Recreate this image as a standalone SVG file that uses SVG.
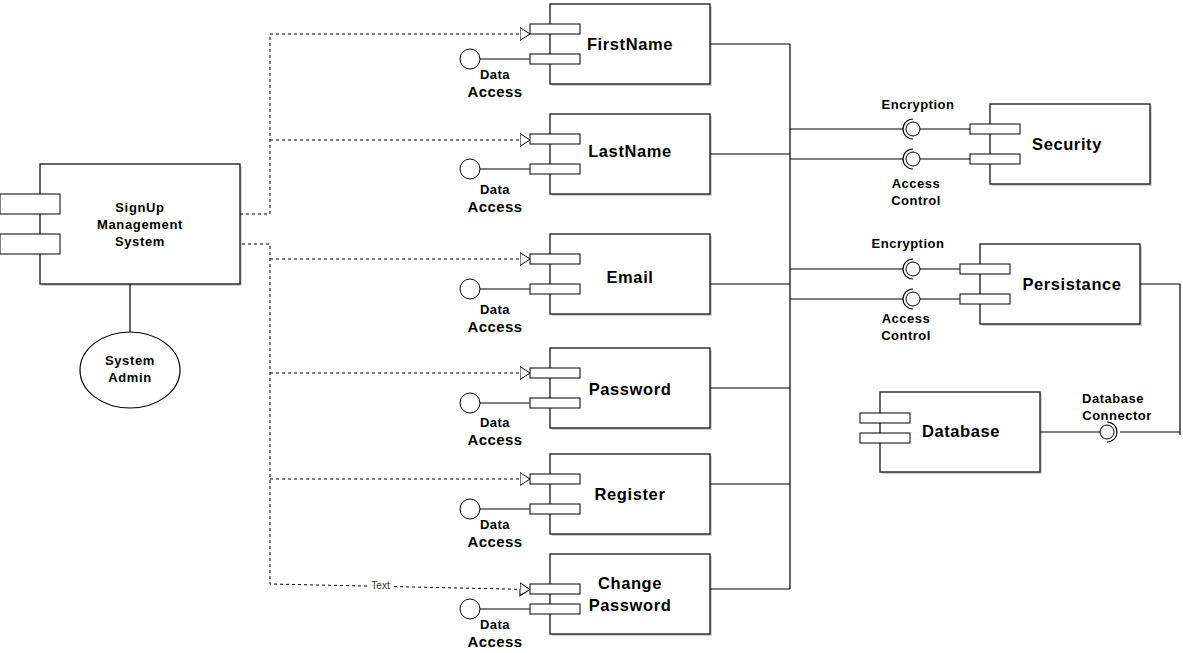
<svg xmlns="http://www.w3.org/2000/svg" width="1183" height="653" viewBox="0 0 1183 653">
<style>
.box{fill:#fff;stroke:#000;stroke-width:1.2}
.sh{fill:#000;opacity:0.18}
.port{fill:#fff;stroke:#000;stroke-width:1}
.ln{fill:none;stroke:#000;stroke-width:1.2}
.dash{fill:none;stroke:#000;stroke-width:1;stroke-dasharray:3 3}
.t{font-family:"Liberation Sans",Arial,sans-serif;font-weight:bold;text-anchor:middle;fill:#000}
.big{font-size:16.5px;letter-spacing:0.6px}
.mid{font-size:13px;letter-spacing:0.65px}
.acc{font-size:15px;letter-spacing:0.4px}
.sm{font-size:13px;letter-spacing:0.5px}
</style>
<defs>
<marker id="tri" markerUnits="userSpaceOnUse" markerWidth="12" markerHeight="15" refX="10.5" refY="7" orient="auto">
<path d="M0.5,0.5 L10.5,7 L0.5,13.5 z" fill="#fff" stroke="#000" stroke-width="1"/>
</marker>
</defs>

<g id="connectors">
<path class="dash" d="M240,214 H270 V34 H530" marker-end="url(#tri)"/>
<path class="dash" d="M270,140 H530" marker-end="url(#tri)"/>
<path class="dash" d="M236,244 H270 V584 L530,589.5" marker-end="url(#tri)"/>
<path class="dash" d="M270,259 H530" marker-end="url(#tri)"/>
<path class="dash" d="M270,373 H530" marker-end="url(#tri)"/>
<path class="dash" d="M270,479 H530" marker-end="url(#tri)"/>
<rect x="368" y="579" width="25" height="12" fill="#fff"/>
<text x="380.5" y="589" font-family="Liberation Sans,Arial,sans-serif" font-size="10" text-anchor="middle" fill="#333">Text</text>
<path class="ln" d="M130,284 V332"/>
<path class="ln" d="M710,44 H790 M710,154 H790 M710,284 H790 M710,388 H790 M710,484 H790 M710,589 H790 M790,44 V589"/>
<path class="ln" d="M790,129 H903 M790,159 H903 M790,269 H903 M790,299 H903"/>
<path class="ln" d="M920,129 H970 M920,159 H970 M920,269 H960 M920,299 H960"/>
<path class="ln" d="M1140,284 H1180 V435 M1180,432 H1120 M1100,432 H1040"/>
</g>

<g id="signup">
<rect class="sh" x="42" y="166" width="200" height="120"/>
<rect class="box" x="40" y="164" width="200" height="120"/>
<rect class="port" x="0" y="194" width="60" height="20"/>
<rect class="port" x="0" y="234" width="60" height="20"/>
<text class="t mid" x="140" y="212">SignUp</text>
<text class="t mid" x="140" y="229">Management</text>
<text class="t mid" x="140" y="246">System</text>
</g>

<g id="sysadmin">
<ellipse cx="130" cy="370" rx="50" ry="38" fill="#fff" stroke="#000" stroke-width="1.2"/>
<text class="t mid" x="130" y="365">System</text>
<text class="t mid" x="130" y="382">Admin</text>
</g>

<g id="firstname">
<rect class="sh" x="552" y="6" width="160" height="80"/>
<rect class="box" x="550" y="4" width="160" height="80"/>
<rect class="port" x="530" y="24" width="50" height="10"/>
<rect class="port" x="530" y="54" width="50" height="10"/>
<path d="M480,59 H530" stroke="#555" stroke-width="1.5"/>
<circle cx="470" cy="59" r="10" fill="#fff" stroke="#000"/>
<text class="t sm" x="495" y="79">Data</text>
<text class="t acc" x="495" y="97">Access</text>
<text class="t big" x="630" y="50">FirstName</text>
</g>

<g id="lastname">
<rect class="sh" x="552" y="116" width="160" height="80"/>
<rect class="box" x="550" y="114" width="160" height="80"/>
<rect class="port" x="530" y="134" width="50" height="10"/>
<rect class="port" x="530" y="164" width="50" height="10"/>
<path d="M480,169 H530" stroke="#555" stroke-width="1.5"/>
<circle cx="470" cy="169" r="10" fill="#fff" stroke="#000"/>
<text class="t sm" x="495" y="194">Data</text>
<text class="t acc" x="495" y="212">Access</text>
<text class="t big" x="630" y="157">LastName</text>
</g>

<g id="email">
<rect class="sh" x="552" y="236" width="160" height="80"/>
<rect class="box" x="550" y="234" width="160" height="80"/>
<rect class="port" x="530" y="254" width="50" height="10"/>
<rect class="port" x="530" y="284" width="50" height="10"/>
<path d="M480,289 H530" stroke="#555" stroke-width="1.5"/>
<circle cx="470" cy="289" r="10" fill="#fff" stroke="#000"/>
<text class="t sm" x="495" y="314">Data</text>
<text class="t acc" x="495" y="332">Access</text>
<text class="t big" x="630" y="283">Email</text>
</g>

<g id="password">
<rect class="sh" x="552" y="350" width="160" height="80"/>
<rect class="box" x="550" y="348" width="160" height="80"/>
<rect class="port" x="530" y="368" width="50" height="10"/>
<rect class="port" x="530" y="398" width="50" height="10"/>
<path d="M480,403 H530" stroke="#555" stroke-width="1.5"/>
<circle cx="470" cy="403" r="10" fill="#fff" stroke="#000"/>
<text class="t sm" x="495" y="427">Data</text>
<text class="t acc" x="495" y="445">Access</text>
<text class="t big" x="630" y="395">Password</text>
</g>

<g id="register">
<rect class="sh" x="552" y="456" width="160" height="80"/>
<rect class="box" x="550" y="454" width="160" height="80"/>
<rect class="port" x="530" y="474" width="50" height="10"/>
<rect class="port" x="530" y="504" width="50" height="10"/>
<path d="M480,509 H530" stroke="#555" stroke-width="1.5"/>
<circle cx="470" cy="509" r="10" fill="#fff" stroke="#000"/>
<text class="t sm" x="495" y="529">Data</text>
<text class="t acc" x="495" y="547">Access</text>
<text class="t big" x="630" y="500">Register</text>
</g>

<g id="changepassword">
<rect class="sh" x="552" y="556" width="160" height="80"/>
<rect class="box" x="550" y="554" width="160" height="80"/>
<rect class="port" x="530" y="584" width="50" height="10"/>
<rect class="port" x="530" y="604" width="50" height="10"/>
<path d="M480,609 H530" stroke="#555" stroke-width="1.5"/>
<circle cx="470" cy="609" r="10" fill="#fff" stroke="#000"/>
<text class="t sm" x="495" y="629">Data</text>
<text class="t acc" x="495" y="647">Access</text>
<text class="t big" x="630" y="589">Change</text>
<text class="t big" x="630" y="611">Password</text>
</g>

<g id="security">
<rect class="sh" x="992" y="106" width="160" height="80"/>
<rect class="box" x="990" y="104" width="160" height="80"/>
<rect class="port" x="970" y="124" width="50" height="10"/>
<rect class="port" x="970" y="154" width="50" height="10"/>
<circle cx="913" cy="129" r="7" fill="#fff" stroke="#000"/>
<path class="ln" d="M913,119 A10,10 0 0 0 913,139"/>
<circle cx="913" cy="159" r="7" fill="#fff" stroke="#000"/>
<path class="ln" d="M913,149 A10,10 0 0 0 913,169"/>
<text class="t sm" x="918" y="109">Encryption</text>
<text class="t sm" x="916" y="188">Access</text>
<text class="t sm" x="916" y="205">Control</text>
<text class="t big" x="1067" y="150">Security</text>
</g>

<g id="persistance">
<rect class="sh" x="982" y="246" width="160" height="80"/>
<rect class="box" x="980" y="244" width="160" height="80"/>
<rect class="port" x="960" y="264" width="50" height="10"/>
<rect class="port" x="960" y="294" width="50" height="10"/>
<circle cx="913" cy="269" r="7" fill="#fff" stroke="#000"/>
<path class="ln" d="M913,259 A10,10 0 0 0 913,279"/>
<circle cx="913" cy="299" r="7" fill="#fff" stroke="#000"/>
<path class="ln" d="M913,289 A10,10 0 0 0 913,309"/>
<text class="t sm" x="908" y="248">Encryption</text>
<text class="t sm" x="906" y="323">Access</text>
<text class="t sm" x="906" y="340">Control</text>
<text class="t big" x="1072" y="290">Persistance</text>
</g>

<g id="database">
<rect class="sh" x="882" y="394" width="160" height="80"/>
<rect class="box" x="880" y="392" width="160" height="80"/>
<rect class="port" x="860" y="413" width="50" height="10"/>
<rect class="port" x="860" y="433" width="50" height="10"/>
<circle cx="1107" cy="432" r="7" fill="#fff" stroke="#000"/>
<path class="ln" d="M1107,422 A10,10 0 0 1 1107,442"/>
<text class="t sm" x="1113" y="403">Database</text>
<text class="t sm" x="1117" y="420">Connector</text>
<text class="t big" x="961" y="437">Database</text>
</g>
</svg>
